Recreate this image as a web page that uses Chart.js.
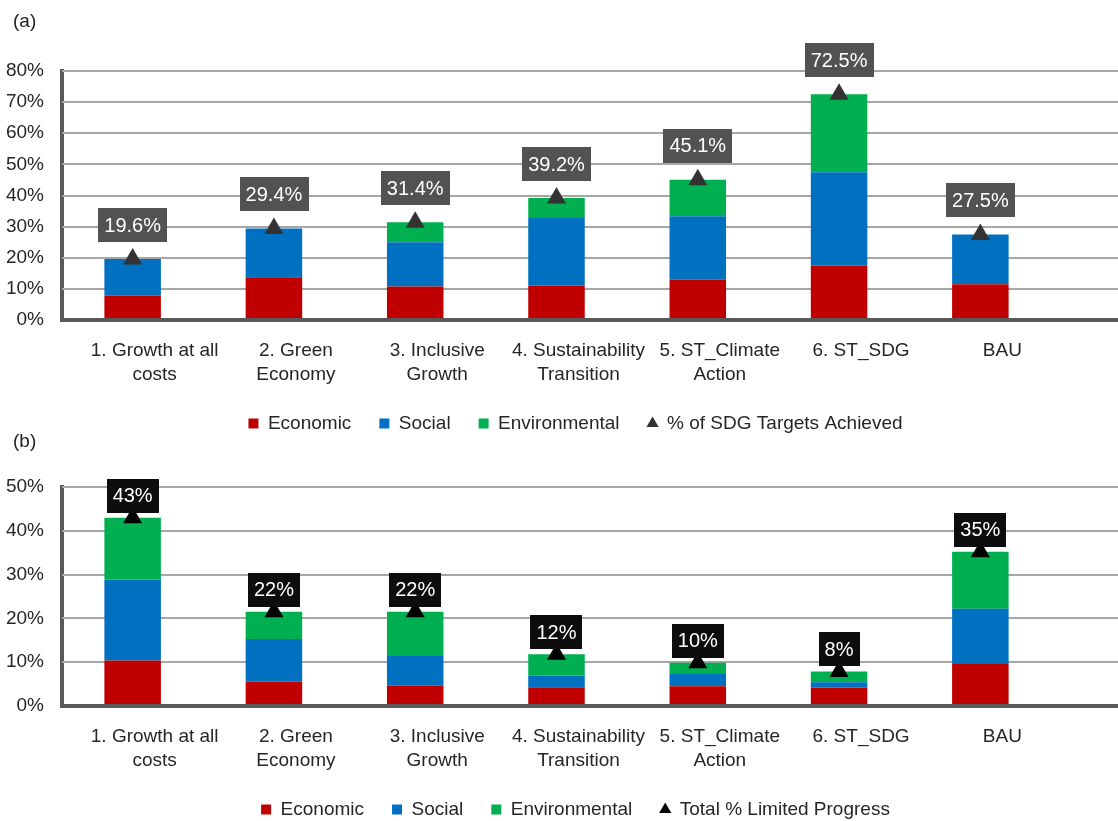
<!DOCTYPE html>
<html>
<head>
<meta charset="utf-8">
<title>SDG targets by scenario</title>
<script src="https://cdn.jsdelivr.net/npm/chart.js@4.4.1/dist/chart.umd.min.js"></script>
<style>
    html, body { margin: 0; padding: 0; background: #fff; overflow: hidden; }
    .panel { position: absolute; left: 0; width: 1118px; }
    .tag { position: absolute; left: 13px; font-size: 19px; color: #222;
           font-family: 'Liberation Sans', Arial, sans-serif; }
</style>
</head>
<body>
<div class="panel" style="top:0; height:444px"><canvas id="ChartA"></canvas></div>
<div class="panel" style="top:440px; height:390px"><canvas id="ChartB"></canvas></div>
<div class="tag" style="top:10px">(a)</div>
<div class="tag" style="top:430px">(b)</div>
<script>
var scenarios = [
    ["1. Growth at all", "costs"],
    ["2. Green", "Economy"],
    ["3. Inclusive", "Growth"],
    ["4. Sustainability", "Transition"],
    ["5. ST_Climate", "Action"],
    ["6. ST_SDG"],
    ["BAU"]
];

// (a) targets achieved, %
var achievedEconomic = [7.8, 13.7, 10.8, 11.1, 12.9, 17.5, 11.5];
var achievedSocial = [11.8, 15.7, 14.2, 21.7, 20.4, 30.0, 16.0];
var achievedEnvironmental = [0, 0, 6.4, 6.4, 11.8, 25.0, 0];
var achievedTotal = [19.6, 29.4, 31.4, 39.2, 45.1, 72.5, 27.5];

// (b) limited progress, %
var limitedEconomic = [10.4, 5.6, 4.6, 4.3, 4.5, 4.2, 9.6];
var limitedSocial = [18.5, 9.7, 6.8, 2.6, 2.8, 1.2, 12.6];
var limitedEnvironmental = [14.1, 6.2, 10.1, 4.9, 2.6, 2.5, 13.0];
var limitedTotal = [43.0, 21.5, 21.5, 11.8, 9.9, 7.9, 35.2];

var FONT = "'Liberation Sans', Arial, sans-serif";

// horizontal grid lines run to the right edge of the picture
var fullGrid = {
    id: "fullGrid",
    beforeDatasetsDraw: function (chart) {
        var ctx = chart.ctx, y = chart.scales.y, area = chart.chartArea;
        ctx.save();
        y.ticks.forEach(function (tick) {
            if (tick.value === 0) return;
            var py = Math.round(y.getPixelForValue(tick.value));
            ctx.beginPath();
            ctx.lineWidth = 2;
            ctx.strokeStyle = "#a6a6a6";
            ctx.moveTo(area.left, py);
            ctx.lineTo(chart.width, py);
            ctx.stroke();
        });
        ctx.restore();
    },
    afterDatasetsDraw: function (chart) {
        var ctx = chart.ctx, y = chart.scales.y, area = chart.chartArea;
        var py = Math.round(y.getPixelForValue(0));
        ctx.save();
        ctx.beginPath();
        ctx.lineWidth = 4;
        ctx.strokeStyle = "#595959";
        ctx.moveTo(area.left - 2, py);
        ctx.lineTo(chart.width, py);
        ctx.stroke();
        ctx.restore();
    }
};

// value boxes above the triangle markers
var valueBoxes = {
    id: "valueBoxes",
    afterDatasetsDraw: function (chart, args, opts) {
        var ctx = chart.ctx;
        var ds = chart.data.datasets[3];
        var meta = chart.getDatasetMeta(3);
        ctx.save();
        ctx.font = "20px " + FONT;
        ctx.textAlign = "center";
        ctx.textBaseline = "middle";
        meta.data.forEach(function (pt, i) {
            var v = ds.data[i];
            var text = (opts.decimals ? v.toFixed(opts.decimals) : Math.round(v)) + "%";
            var w = ctx.measureText(text).width + 12;
            var h = 34;
            var cy = pt.y - opts.offset;
            ctx.fillStyle = opts.fill;
            ctx.fillRect(Math.round(pt.x - w / 2), Math.round(cy - h / 2), Math.round(w), h);
            ctx.fillStyle = "#ffffff";
            ctx.fillText(text, pt.x, cy + 1);
        });
        ctx.restore();
    }
};

// the legend sits a little right of the plot centre
var legendShift = {
    id: "legendShift",
    afterLayout: function (chart) {
        chart.legend.left += 50;
        chart.legend.right += 50;
    }
};

function makeChart(id, economic, social, environmental, total, totalLabel, max, top, box) {
    var context = document.getElementById(id).getContext("2d");
    return new Chart(context, {
        data: {
            labels: scenarios,
            datasets: [{
                type: "bar", label: "Economic", data: economic,
                backgroundColor: "#c00000", pointStyle: "rect", order: 1
            },
            {
                type: "bar", label: "Social", data: social,
                backgroundColor: "#0070c0", pointStyle: "rect", order: 1
            },
            {
                type: "bar", label: "Environmental", data: environmental,
                backgroundColor: "#00b050", pointStyle: "rect", order: 1
            },
            {
                type: "line", label: totalLabel, data: total, stack: "tri",
                showLine: false, pointStyle: "triangle", pointRadius: 11, pointHoverRadius: 11,
                backgroundColor: box.marker, pointBackgroundColor: box.marker,
                borderColor: box.marker, pointBorderWidth: 0, borderWidth: 0, order: 0
            }]
        },
        options: {
            responsive: true,
            maintainAspectRatio: false,
            animation: false,
            datasets: { bar: { barPercentage: 0.4, categoryPercentage: 1 } },
            layout: { padding: { top: top, right: 67, bottom: 1, left: 0 } },
            scales: {
                x: {
                    stacked: true,
                    grid: { display: false, drawTicks: false },
                    border: { display: false },
                    ticks: {
                        color: "#262626", padding: 18, maxRotation: 0, autoSkip: false,
                        labelOffset: 22,
                        font: { family: FONT, size: 19, lineHeight: 1.3 }
                    },
                    afterFit: function (s) { s.height = 66; }
                },
                y: {
                    stacked: true, min: 0, max: max,
                    grid: { display: false, drawTicks: false },
                    border: { display: true, color: "#595959", width: 4 },
                    ticks: {
                        stepSize: 10, color: "#262626", padding: 18,
                        font: { family: FONT, size: 19 },
                        callback: function (v) { return v + "%"; }
                    },
                    afterFit: function (s) { s.width = 62; }
                }
            },
            plugins: {
                legend: {
                    position: "bottom",
                    labels: {
                        usePointStyle: true, boxWidth: 10, boxHeight: 10, padding: 28,
                        color: "#262626", font: { family: FONT, size: 19 },
                        sort: function (a, b) { return a.datasetIndex - b.datasetIndex; }
                    }
                },
                tooltip: { enabled: false },
                valueBoxes: { offset: box.offset, fill: box.fill, decimals: box.decimals }
            }
        },
        plugins: [fullGrid, valueBoxes, legendShift]
    });
}

makeChart("ChartA", achievedEconomic, achievedSocial, achievedEnvironmental, achievedTotal,
    "% of SDG Targets Achieved", 80, 71,
    { offset: 34, fill: "#525252", marker: "#333333", decimals: 1 });
makeChart("ChartB", limitedEconomic, limitedSocial, limitedEnvironmental, limitedTotal,
    "Total % Limited Progress", 50, 47,
    { offset: 22, fill: "#0d0d0d", marker: "#000000", decimals: 0 });
</script>
</body>
</html>
